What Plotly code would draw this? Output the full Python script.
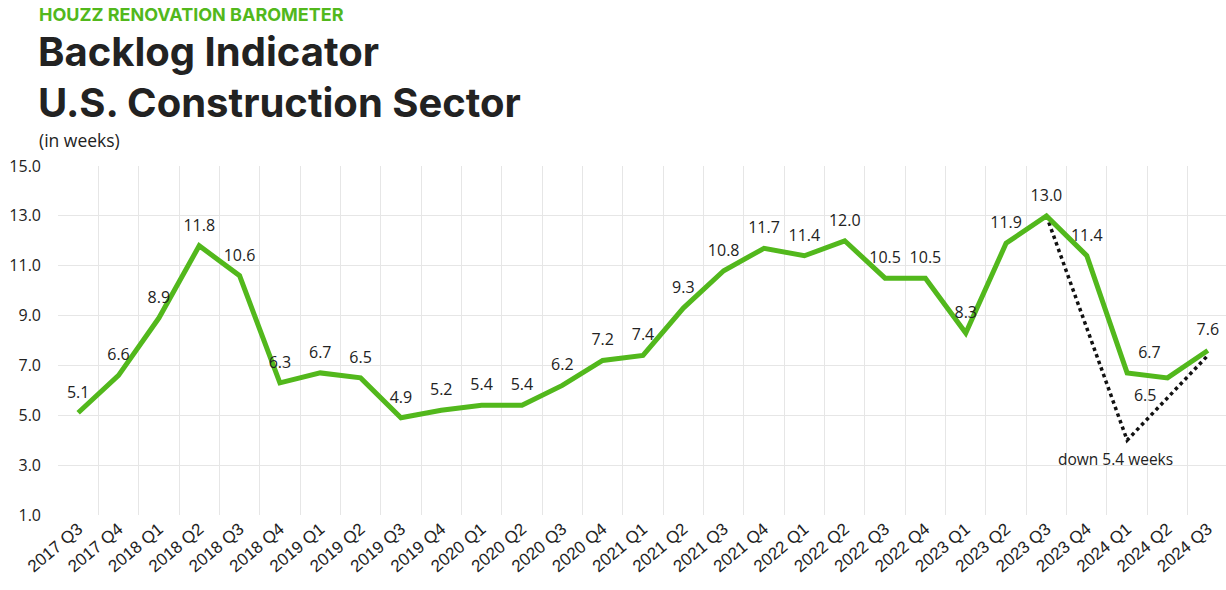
import plotly.graph_objects as go

quarters = ["2017 Q3", "2017 Q4", "2018 Q1", "2018 Q2", "2018 Q3", "2018 Q4",
            "2019 Q1", "2019 Q2", "2019 Q3", "2019 Q4", "2020 Q1", "2020 Q2",
            "2020 Q3", "2020 Q4", "2021 Q1", "2021 Q2", "2021 Q3", "2021 Q4",
            "2022 Q1", "2022 Q2", "2022 Q3", "2022 Q4", "2023 Q1", "2023 Q2",
            "2023 Q3", "2023 Q4", "2024 Q1", "2024 Q2", "2024 Q3"]
backlog_weeks = [5.1, 6.6, 8.9, 11.8, 10.6, 6.3, 6.7, 6.5, 4.9, 5.2, 5.4, 5.4,
                 6.2, 7.2, 7.4, 9.3, 10.8, 11.7, 11.4, 12.0, 10.5, 10.5, 8.3, 11.9,
                 13.0, 11.4, 6.7, 6.5, 7.6]

decline_x = ["2023 Q3", "2024 Q1", "2024 Q3"]
decline_y = [13.0, 4.0, 7.4]
decline_label = "down 5.4 weeks"

y_ticks = [1, 3, 5, 7, 9, 11, 13, 15]

GREEN = "#52B81C"
TEXT = "#222222"
SMALL_FONT = "Open Sans, sans-serif"

label_pos = ["top center"] * len(quarters)
label_pos[quarters.index("2024 Q1")] = "top right"
label_pos[quarters.index("2024 Q2")] = "bottom left"

W, H = 1230, 590
ML, MR, MT, MB = 58, 2, 166, 75
PW, PH = W - ML - MR, H - MT - MB

def px_x(x):
    return (x - ML) / PW

def px_y(y):
    return (H - MB - y) / PH

fig = go.Figure()
fig.add_trace(go.Scatter(
    x=decline_x, y=decline_y, mode="lines",
    line=dict(color="#111111", width=3.5, dash="dot"),
    hoverinfo="skip", showlegend=False))
fig.add_trace(go.Scatter(
    x=quarters, y=backlog_weeks, mode="lines+markers+text",
    line=dict(color=GREEN, width=5),
    marker=dict(size=16, color="rgba(0,0,0,0)"),
    text=[f"{v:.1f}" for v in backlog_weeks],
    textposition=label_pos,
    textfont=dict(family=SMALL_FONT, size=16, color=TEXT),
    hoverinfo="x+y", showlegend=False))

annotations = [
    dict(text="HOUZZ RENOVATION BAROMETER", x=px_x(37), y=px_y(14),
         font=dict(family="Inter, sans-serif", size=18, color=GREEN, weight=700)),
    dict(text="Backlog Indicator", x=px_x(36), y=px_y(51),
         font=dict(family="Inter, sans-serif", size=40, color=TEXT, weight=700)),
    dict(text="U.S. Construction Sector", x=px_x(36), y=px_y(103),
         font=dict(family="Inter, sans-serif", size=40, color=TEXT, weight=700)),
    dict(text="(in weeks)", x=px_x(37), y=px_y(140),
         font=dict(family=SMALL_FONT, size=17.5, color=TEXT)),
]
for a in annotations:
    a.update(xref="paper", yref="paper", xanchor="left", yanchor="middle",
             showarrow=False)

annotations.append(dict(
    text=decline_label, x="2024 Q1", y=decline_y[1], xref="x", yref="y",
    xanchor="center", yanchor="top", yshift=-6, xshift=-12, showarrow=False,
    font=dict(family=SMALL_FONT, size=15.5, color=TEXT)))

fig.update_layout(
    width=W, height=H,
    margin=dict(l=ML, r=MR, t=MT, b=MB, autoexpand=False),
    paper_bgcolor="white", plot_bgcolor="white",
    annotations=annotations,
    xaxis=dict(
        type="category", categoryorder="array", categoryarray=quarters,
        range=[-0.5, len(quarters) - 0.5],
        tickson="boundaries", showgrid=True,
        gridcolor="#e6e6e6", gridwidth=1, ticks="", tickangle=-40,
        tickfont=dict(family="Liberation Sans, Arial, sans-serif", size=17, color=TEXT),
        showline=False, zeroline=False,
    ),
    yaxis=dict(
        range=[1, 15], tickvals=y_ticks, tickformat=".1f",
        showgrid=True, gridcolor="#e6e6e6", gridwidth=1, zeroline=False,
        showline=False, ticks="", ticklabelstandoff=16,
        tickfont=dict(family=SMALL_FONT, size=16, color=TEXT),
    ),
)

fig.write_html(
    "out.html",
    config={"displayModeBar": False},
    post_script="document.body.style.margin='0';document.body.style.padding='0';"
                "document.body.style.overflow='hidden';",
)
